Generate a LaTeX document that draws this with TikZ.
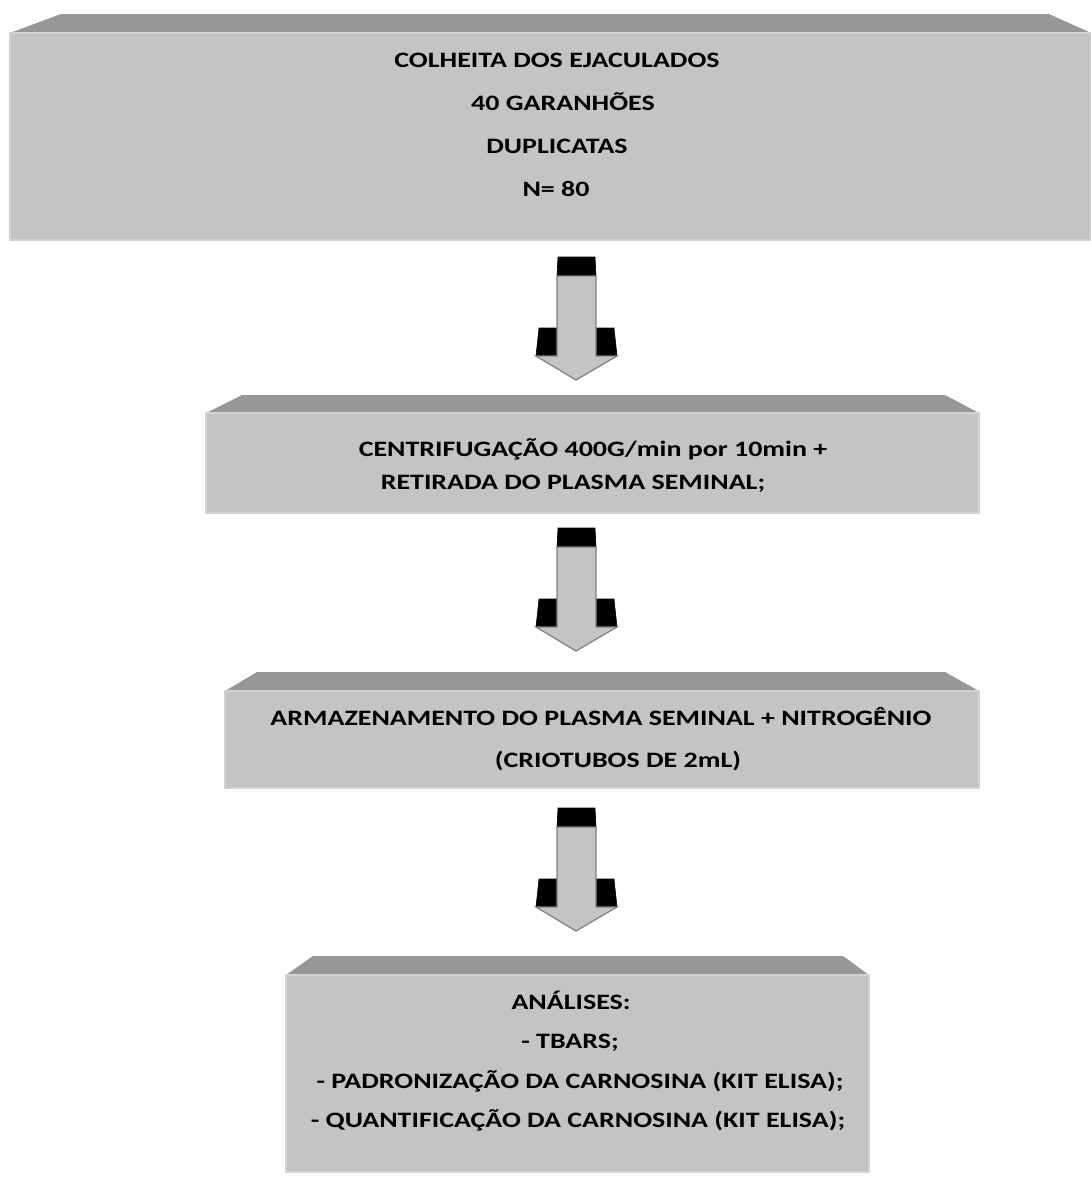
\documentclass[tikz,border=0pt]{standalone}
\usepackage{fontspec}
\setmainfont{Carlito}[FakeStretch=1.27]
\definecolor{face}{HTML}{C4C4C4}
\definecolor{bevel}{HTML}{979797}
\definecolor{edge}{HTML}{D2D2D2}
\definecolor{arrowedge}{HTML}{7F7F7F}
\tikzset{
  frontface/.style={fill=face, draw=edge, line width=1.2pt},
  topface/.style={fill=bevel, draw=none},
  lbl/.style={anchor=base, inner sep=0pt, font=\fontsize{22}{26}\selectfont\bfseries, text=black},
  capface/.style={fill=black, draw=black, line width=0.6pt, line join=round},
  arrowface/.style={fill=face, draw=arrowedge, line width=1.2pt, line join=miter}
}
\newcommand{\blockarrow}[2]{% #1 name, #2 top y
  \coordinate (#1-top) at (576,#2);
  \coordinate (#1-tip) at (576,#2+123);
  \fill[capface] (558,#2) -- (595,#2) -- (596,#2+19) -- (557,#2+19) -- cycle;
  \fill[capface] (539,#2+71) -- (557,#2+71) -- (557,#2+99) -- (536,#2+99) -- cycle;
  \fill[capface] (596,#2+71) -- (614,#2+71) -- (617,#2+99) -- (596,#2+99) -- cycle;
  \filldraw[arrowface] (557,#2+19) -- (596,#2+19) -- (596,#2+99) -- (617,#2+99)
     -- (576,#2+123) -- (536,#2+99) -- (557,#2+99) -- cycle;
}
\begin{document}
\begin{tikzpicture}[x=1pt,y=-1pt]
\useasboundingbox (0,0) rectangle (1091,1178);

% Box 1
\fill[topface] (10,33) -- (61,14) -- (1049,14) -- (1091,33) -- cycle;
\filldraw[frontface] (10,33) rectangle (1090.4,240);
\node[lbl] (b1l1) at (557,67) {COLHEITA DOS EJACULADOS};
\node[lbl] (b1l2) at (563,110) {40 GARANHÕES};
\node[lbl] (b1l3) at (557,153) {DUPLICATAS};
\node[lbl] (b1l4) at (556,196) {N= 80};

\blockarrow{a1}{257}

% Box 2
\fill[topface] (206,413) -- (242,395) -- (945,395) -- (979,413) -- cycle;
\filldraw[frontface] (206,413) rectangle (979,513);
\node[lbl] (b2l1) at (593,456) {CENTRIFUGAÇÃO 400G/min por 10min +};
\node[lbl] (b2l2) at (573,489) {RETIRADA DO PLASMA SEMINAL;};

\blockarrow{a2}{528}

% Box 3
\fill[topface] (225,691) -- (257,672) -- (945,672) -- (979,691) -- cycle;
\filldraw[frontface] (225,691) rectangle (979,788);
\node[lbl] (b3l1) at (601,725) {ARMAZENAMENTO DO PLASMA SEMINAL + NITROGÊNIO};
\node[lbl] (b3l2) at (618,767) {(CRIOTUBOS DE 2mL)};

\blockarrow{a3}{808}

% Box 4
\fill[topface] (286,975) -- (313,956) -- (843,956) -- (869,975) -- cycle;
\filldraw[frontface] (286,975) rectangle (869,1172);
\node[lbl] (b4l1) at (571,1009) {ANÁLISES:};
\node[lbl] (b4l2) at (570,1048) {- TBARS;};
\node[lbl] (b4l3) at (580,1088) {- PADRONIZAÇÃO DA CARNOSINA (KIT ELISA);};
\node[lbl] (b4l4) at (578,1127) {- QUANTIFICAÇÃO DA CARNOSINA (KIT ELISA);};
\end{tikzpicture}
\end{document}
